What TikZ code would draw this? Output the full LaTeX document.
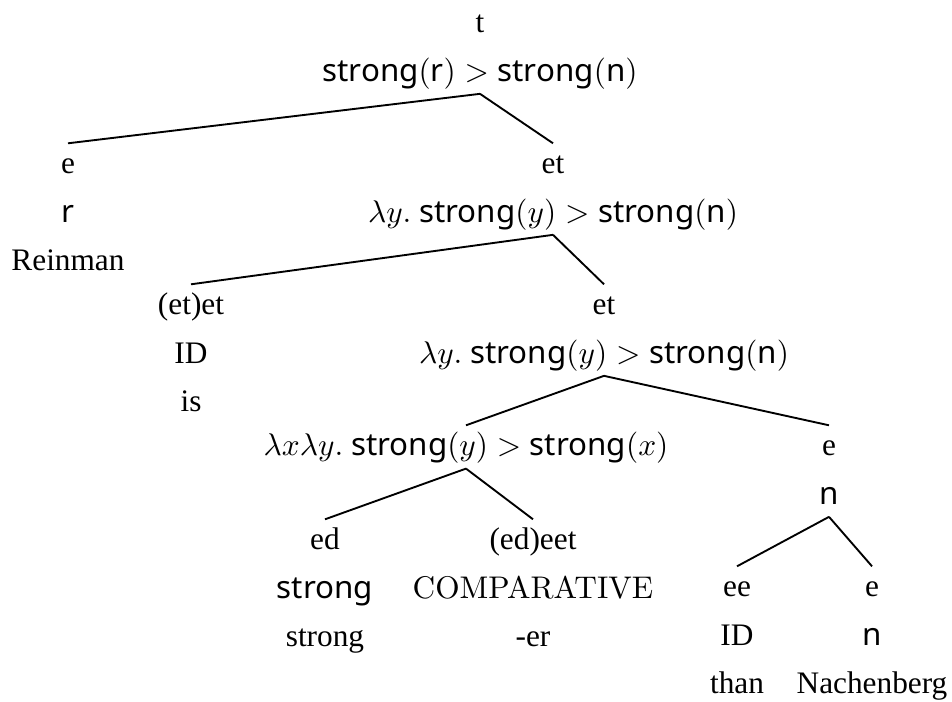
\documentclass[tikz,border=0pt]{standalone}
\usepackage[no-math]{fontspec}
\setmainfont{Liberation Serif}
\setsansfont{Noto Sans}
\usepackage{amsmath}
\usepackage{tikz}
\usetikzlibrary{positioning}

\begin{document}
\begin{tikzpicture}[x=0.3193pt, y=-0.3193pt, node distance=1.57pt,
treeline/.style={anchor=base, inner sep=2pt, text height=7.6pt, text depth=1.83pt},
branch/.style={semithick},
]
\useasboundingbox (0,0) rectangle (952,702);

%Nodes
\node[treeline]      (rtype)                          at (480,33)     {t};
\node[treeline]      (rsem)        [below=of rtype]                   {$\textsf{strong}(\textsf{r}) > \textsf{strong}(\textsf{n})$};

\node[treeline]      (subjtype)                       at (68,174)     {e};
\node[treeline]      (subjsem)     [below=of subjtype]                {\textsf{r}};
\node[treeline]      (subjword)    [below=of subjsem]                 {Reinman};
\node[treeline]      (vptype)                         at (553,174)    {et};
\node[treeline]      (vpsem)       [below=of vptype]                  {$\lambda y.\ \textsf{strong}(y) > \textsf{strong}(\textsf{n})$};

\node[treeline]      (istype)                         at (191,315)    {(et)et};
\node[treeline]      (issem)       [below=of istype]                  {ID};
\node[treeline]      (isword)      [below=of issem]                   {is};
\node[treeline]      (aptype)                         at (604,315)    {et};
\node[treeline]      (apsem)       [below=of aptype]                  {$\lambda y.\ \textsf{strong}(y) > \textsf{strong}(\textsf{n})$};

\node[treeline]      (cmpsem)                         at (466,456)    {$\lambda x\lambda y.\ \textsf{strong}(y) > \textsf{strong}(x)$};
\node[treeline]      (thantype)                       at (829,456)    {e};
\node[treeline]      (thansem)     [below=of thantype]                {\textsf{n}};

\node[treeline]      (adjtype)                        at (325,550)    {ed};
\node[treeline]      (adjsem)      [below=of adjtype]                 {\textsf{strong}};
\node[treeline]      (adjword)     [below=of adjsem]                  {strong};
\node[treeline]      (ertype)                         at (533,550)    {(ed)eet};
\node[treeline]      (ersem)       [below=of ertype]                  {$\mathrm{COMPARATIVE}$};
\node[treeline]      (erword)      [below=of ersem]                   {-er};

\node[treeline]      (thtype)                         at (737,597)    {ee};
\node[treeline]      (thsem)       [below=of thtype]                  {ID};
\node[treeline]      (thword)      [below=of thsem]                   {than};
\node[treeline]      (objtype)                        at (872,597)    {e};
\node[treeline]      (objsem)      [below=of objtype]                 {\textsf{n}};
\node[treeline]      (objword)     [below=of objsem]                  {Nachenberg};

%Lines
\draw[branch] (rsem.south) -- (subjtype.north);
\draw[branch] (rsem.south) -- (vptype.north);
\draw[branch] (vpsem.south) -- (istype.north);
\draw[branch] (vpsem.south) -- (aptype.north);
\draw[branch] (apsem.south) -- (cmpsem.north);
\draw[branch] (apsem.south) -- (thantype.north);
\draw[branch] (cmpsem.south) -- (adjtype.north);
\draw[branch] (cmpsem.south) -- (ertype.north);
\draw[branch] (thansem.south) -- (thtype.north);
\draw[branch] (thansem.south) -- (objtype.north);

\end{tikzpicture}
\end{document}
